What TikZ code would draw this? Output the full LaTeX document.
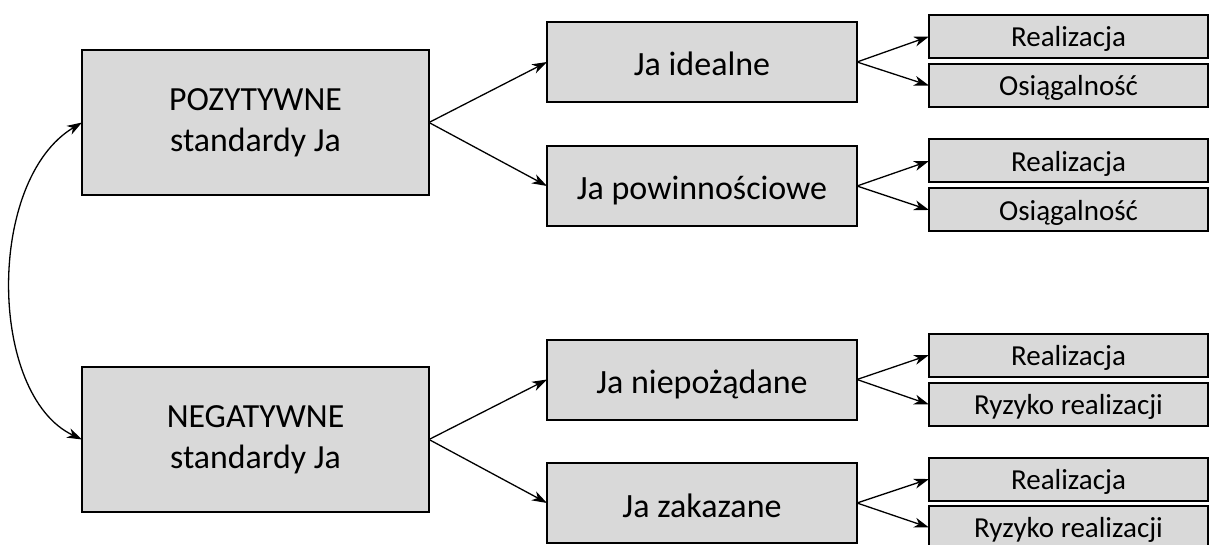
\documentclass[tikz,border=0pt]{standalone}
\usepackage{fontspec}
\setmainfont{Carlito}
\usetikzlibrary{arrows.meta}
\definecolor{boxgray}{HTML}{D9D9D9}
\begin{document}
\begin{tikzpicture}[x=1pt,y=-1pt,
  box/.style={draw=black, fill=boxgray, line width=2pt, inner sep=0pt, outer sep=0pt},
  bigbox/.style={box, align=center, minimum width=347pt, minimum height=145pt, font=\fontsize{33.8}{41}\selectfont},
  midbox/.style={box, minimum width=310pt, minimum height=80pt, text height=33pt, text depth=5pt, font=\fontsize{34}{41}\selectfont},
  smallbox/.style={box, minimum width=279pt, minimum height=43pt, text height=25pt, text depth=4.4pt, font=\fontsize{29}{35}\selectfont},
  arr/.style={line width=1.3pt, -{Stealth[length=15pt, width=10pt, inset=4.5pt]}},
  dblarr/.style={line width=1.3pt, {Stealth[length=15pt, width=10pt, inset=4.5pt]}-{Stealth[length=15pt, width=10pt, inset=4.5pt]}}
]
\useasboundingbox (0,0) rectangle (1209,545);
% main boxes
\node[bigbox] (pos) at (255.5,122.5) {POZYTYWNE\\standardy Ja};
\node[bigbox] (neg) at (255.5,439.5) {NEGATYWNE\\standardy Ja};
% middle boxes
\node[midbox] (idl) at (702,62) {Ja idealne};
\node[midbox] (pow) at (702,186) {Ja powinnościowe};
\node[midbox] (nie) at (702,379.5) {Ja niepożądane};
\node[midbox] (zak) at (702,503) {Ja zakazane};
% small boxes
\node[smallbox] (r1) at (1068.5,36.5) {Realizacja};
\node[smallbox] (o1) at (1068.5,85.5) {Osiągalność};
\node[smallbox] (r2) at (1068.5,161) {Realizacja};
\node[smallbox] (o2) at (1068.5,210) {Osiągalność};
\node[smallbox] (r3) at (1068.5,355) {Realizacja};
\node[smallbox] (k3) at (1068.5,404.5) {Ryzyko realizacji};
\node[smallbox] (r4) at (1068.5,479) {Realizacja};
\node[smallbox] (k4) at (1068.5,527.5) {Ryzyko realizacji};
% arrows
\draw[arr] (pos.east) -- (idl.west);
\draw[arr] (pos.east) -- (pow.west);
\draw[arr] (neg.east) -- (nie.west);
\draw[arr] (neg.east) -- (zak.west);
\draw[arr] (idl.east) -- (r1.west);
\draw[arr] (idl.east) -- (o1.west);
\draw[arr] (pow.east) -- (r2.west);
\draw[arr] (pow.east) -- (o2.west);
\draw[arr] (nie.east) -- (r3.west);
\draw[arr] (nie.east) -- (k3.west);
\draw[arr] (zak.east) -- (r4.west);
\draw[arr] (zak.east) -- (k4.west);
\draw[dblarr] (pos.west) .. controls (-14,180) and (-12,395) .. (neg.west);
\end{tikzpicture}
\end{document}
